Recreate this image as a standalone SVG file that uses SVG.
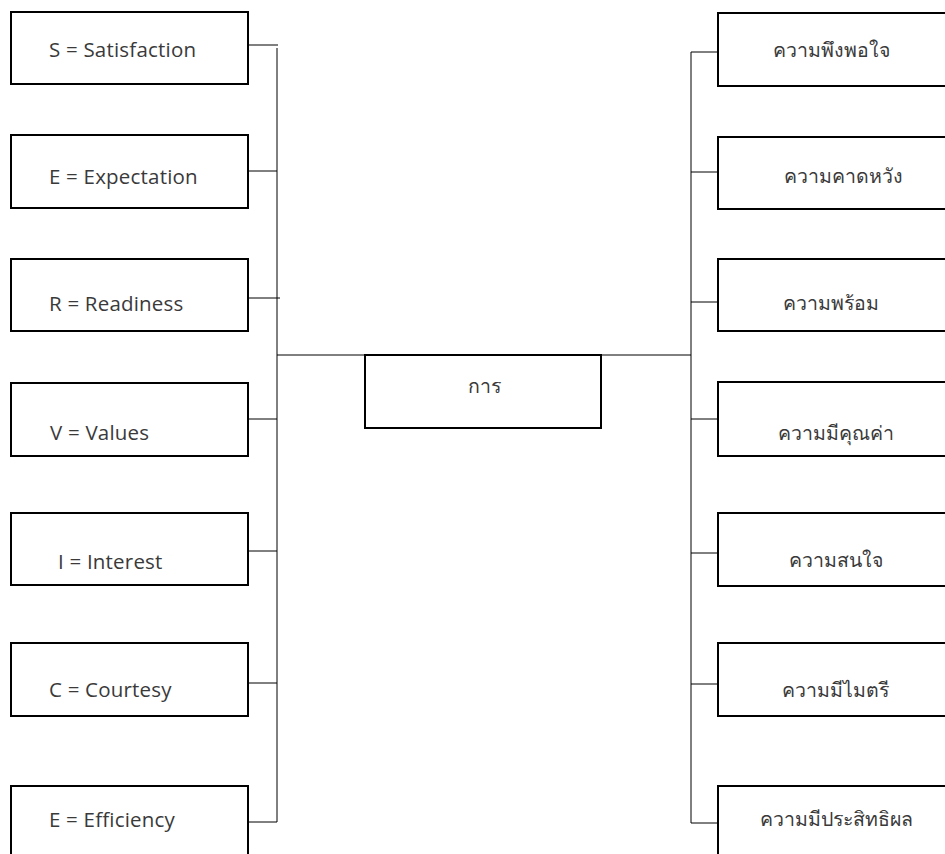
<svg xmlns="http://www.w3.org/2000/svg" width="945" height="854" viewBox="0 0 945 854">
<style>
.box{fill:#fff;stroke:#000;stroke-width:2}
.ln{fill:none;stroke:#000;stroke-width:1}
.t{font-family:"Open Sans","Noto Sans",sans-serif;font-size:20.5px;fill:#3a3a3a;letter-spacing:0.2px}
.th{font-family:"Noto Sans","DejaVu Sans",sans-serif;font-size:19.5px;fill:#3a3a3a;text-anchor:middle}
</style>
<rect width="945" height="854" fill="#fff"/>
<g id="connectors">
<path class="ln" d="M277 48V822M248 45H278M248 171H277M248 298H280M248 419H277M248 551H277M248 683H277M248 822H277"/>
<path class="ln" d="M277 355H691"/>
<path class="ln" d="M691 52V823M691 52H718M691 172H718M691 302H718M691 419H718M691 553H718M691 684H718M691 823H718"/>
</g>
<g id="n-s"><rect class="box" x="11" y="12" width="237" height="72"/><text class="t" x="49" y="57">S = Satisfaction</text></g>
<g id="n-e1"><rect class="box" x="11" y="135" width="237" height="73"/><text class="t" x="49" y="184">E = Expectation</text></g>
<g id="n-r"><rect class="box" x="11" y="259" width="237" height="72"/><text class="t" x="49" y="311">R = Readiness</text></g>
<g id="n-v"><rect class="box" x="11" y="383" width="237" height="73"/><text class="t" x="50" y="440">V = Values</text></g>
<g id="n-i"><rect class="box" x="11" y="513" width="237" height="72"/><text class="t" x="58" y="569">I = Interest</text></g>
<g id="n-c"><rect class="box" x="11" y="643" width="237" height="73"/><text class="t" x="49" y="697">C = Courtesy</text></g>
<g id="n-e2"><rect class="box" x="11" y="786" width="237" height="80"/><text class="t" x="49" y="827">E = Efficiency</text></g>
<g id="n-center"><rect class="box" x="365" y="355" width="236" height="73"/><text class="th" x="484" y="393">การ</text></g>
<g id="n-t1"><rect class="box" x="718" y="13" width="240" height="73"/><text class="th" x="831" y="57">ความพึงพอใจ</text></g>
<g id="n-t2"><rect class="box" x="718" y="137" width="240" height="72"/><text class="th" x="843" y="183">ความคาดหวัง</text></g>
<g id="n-t3"><rect class="box" x="718" y="259" width="240" height="72"/><text class="th" x="831" y="310">ความพร้อม</text></g>
<g id="n-t4"><rect class="box" x="718" y="382" width="240" height="74"/><text class="th" x="836" y="440">ความมีคุณค่า</text></g>
<g id="n-t5"><rect class="box" x="718" y="513" width="240" height="73"/><text class="th" x="836" y="567">ความสนใจ</text></g>
<g id="n-t6"><rect class="box" x="718" y="643" width="240" height="73"/><text class="th" x="835" y="697">ความมีไมตรี</text></g>
<g id="n-t7"><rect class="box" x="718" y="786" width="240" height="80"/><text class="th" x="836" y="826">ความมีประสิทธิผล</text></g>
</svg>
